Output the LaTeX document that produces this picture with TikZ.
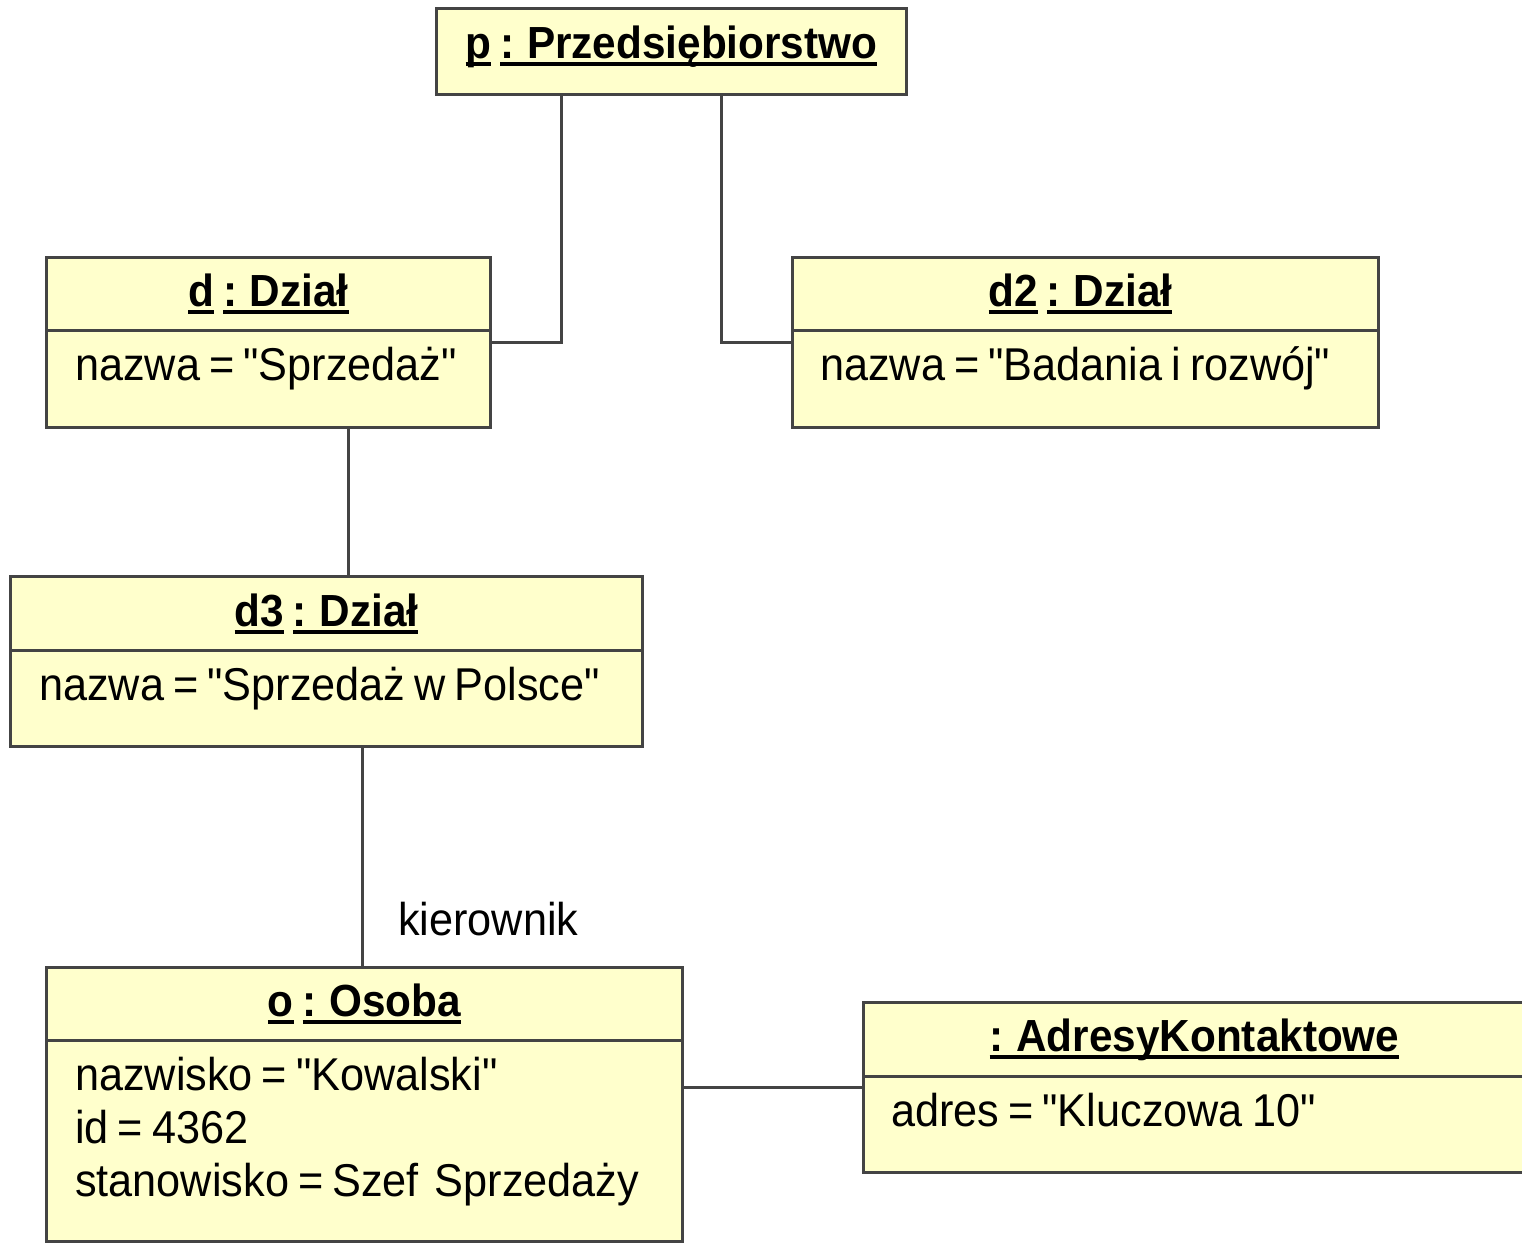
\documentclass[tikz,border=0pt]{standalone}
\usepackage{fontspec}
\setmainfont{Liberation Sans}[Ligatures=TeXOff, FakeStretch=0.94, WordSpace=0.75]
\definecolor{objfill}{RGB}{255,255,204}
\definecolor{objline}{RGB}{68,68,68}
% thick underline for object names
\newsavebox\objulbox
\newcommand\objul[1]{\sbox\objulbox{#1}\rlap{\rule[-8pt]{\wd\objulbox}{4pt}}\usebox\objulbox}
\begin{document}
\begin{tikzpicture}[x=1pt,y=-1pt,
  obj/.style={draw=objline, fill=objfill, line width=3pt, rectangle, inner sep=0pt, anchor=north west},
  objtitle/.style={anchor=base, inner sep=0pt, font=\fontsize{45}{54}\selectfont\bfseries},
  objattr/.style={anchor=base west, inner sep=0pt, font=\fontsize{46}{54}\selectfont},
  divider/.style={draw=objline, line width=3pt},
  conn/.style={draw=objline, line width=3pt}]
\useasboundingbox (0,0) rectangle (1522,1242);

% object boxes
\node[obj, minimum width=470pt, minimum height=86pt] (p) at (435,7) {};
\node[obj, minimum width=444pt, minimum height=170pt] (d) at (45,256) {};
\node[obj, minimum width=586pt, minimum height=170pt] (d2) at (791,256) {};
\node[obj, minimum width=632pt, minimum height=170pt] (d3) at (9,575) {};
\node[obj, minimum width=636pt, minimum height=274pt] (o) at (45,966) {};
\node[obj, minimum width=662pt, minimum height=170pt] (a) at (862,1001) {};

% compartment dividers
\foreach \b/\h in {d/74, d2/74, d3/75, o/74, a/75}
  \draw[divider] ([yshift=-\h pt]\b.north west) -- ([yshift=-\h pt]\b.north east);

% object names
\node[objtitle] (pt) at ([yshift=-51pt]p.north) {\objul{p} \objul{: Przedsiębiorstwo}};
\node[objtitle] (dt) at ([yshift=-50pt]d.north) {\objul{d} \objul{: Dział}};
\node[objtitle] (d2t) at ([xshift=-5pt,yshift=-50pt]d2.north) {\objul{d2} \objul{: Dział}};
\node[objtitle] (d3t) at ([yshift=-51pt]d3.north) {\objul{d3} \objul{: Dział}};
\node[objtitle] (ot) at ([yshift=-50pt]o.north) {\objul{o} \objul{: Osoba}};
\node[objtitle] (at) at ([yshift=-50pt]a.north) {\objul{: AdresyKontaktowe}};

% attributes
\node[objattr] (da) at ([xshift=30pt,yshift=-124pt]d.north west) {nazwa = "Sprzedaż"};
\node[objattr] (d2a) at ([xshift=29pt,yshift=-124pt]d2.north west) {nazwa = "Badania i rozwój"};
\node[objattr] (d3a) at ([xshift=30pt,yshift=-125pt]d3.north west) {nazwa = "Sprzedaż w Polsce"};
\node[objattr] (oa1) at ([xshift=30pt,yshift=-124pt]o.north west) {nazwisko = "Kowalski"};
\node[objattr] (oa2) at ([xshift=30pt,yshift=-177pt]o.north west) {id = 4362};
\node[objattr] (oa3) at ([xshift=30pt,yshift=-230pt]o.north west) {stanowisko = Szef\hspace{0.35em}Sprzedaży};
\node[objattr] (aa) at ([xshift=29pt,yshift=-125pt]a.north west) {adres = "Kluczowa 10"};

% links
\draw[conn] ([xshift=-110pt]p.south) |- (d.east);
\draw[conn] ([xshift=50pt]p.south) |- (d2.west);
\draw[conn] ([xshift=80pt]d.south) -- ([xshift=80pt]d.south |- d3.north);
\draw[conn] ([xshift=36pt]d3.south) -- ([xshift=36pt]d3.south |- o.north);
\draw[conn] (o.east |- a.west) -- (a.west);

% role name
\node[objattr] (kier) at (398,935) {kierownik};
\end{tikzpicture}
\end{document}
